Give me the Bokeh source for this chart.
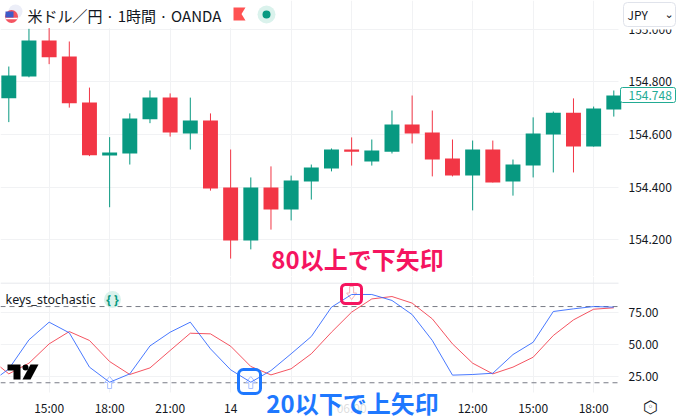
from bokeh.plotting import figure
from bokeh.layouts import column
from bokeh.models import (ColumnDataSource, FixedTicker, BoxAnnotation, Label, NumeralTickFormatter)
from bokeh.embed import file_html
from bokeh.resources import INLINE

opens  = [154.738,154.820,154.957,154.896,154.721,154.520,154.528,154.658,154.740,154.604,154.653,
          154.399,154.198,154.399,154.315,154.422,154.471,154.543,154.498,154.535,154.638,154.608,
          154.509,154.444,154.543,154.422,154.482,154.600,154.683,154.554,154.695]
highs  = [154.858,155.001,155.004,154.953,154.778,154.590,154.680,154.767,154.756,154.740,154.680,
          154.543,154.437,154.479,154.444,154.486,154.547,154.589,154.581,154.691,154.748,154.691,
          154.581,154.577,154.577,154.505,154.665,154.687,154.737,154.706,154.767]
lows   = [154.647,154.817,154.867,154.702,154.518,154.324,154.486,154.643,154.592,154.543,154.387,
          154.129,154.164,154.239,154.274,154.353,154.460,154.482,154.482,154.528,154.566,154.441,
          154.441,154.312,154.418,154.368,154.437,154.456,154.456,154.554,154.668]
closes = [154.824,154.957,154.893,154.719,154.521,154.532,154.661,154.740,154.608,154.653,154.395,
          154.198,154.399,154.315,154.425,154.475,154.543,154.535,154.539,154.638,154.604,154.505,
          154.444,154.543,154.418,154.486,154.604,154.683,154.554,154.699,154.748]
k_line = [19.1,30.9,53.8,67.7,59.3,32.3,20.4,27.0,49.0,59.8,67.7,46.7,30.2,20.4,29.6,42.8,56.4,
          79.5,89.5,89.5,84.8,73.7,53.3,26.0,26.5,27.5,42.2,51.9,76.1,78.2,80.0,79.5]
d_line = [40.0,27.0,35.4,50.6,60.3,53.3,36.7,26.5,31.7,45.4,59.0,58.5,48.8,32.8,26.2,31.0,42.8,
          59.8,75.6,86.0,87.9,82.7,70.3,50.6,35.4,27.0,32.3,40.1,57.2,69.5,77.9,79.0]
line_index = list(range(-1, 31))
time_ticks = [2,5,8,11,14,17,20,23,26,29]
time_labels = ["15:00","18:00","21:00","14","","06:00","","12:00","15:00","18:00"]
price_ticks = [154.2,154.4,154.6,154.8,155.0]
osc_ticks = [25,50,75]
up_signals = [5,12]
down_signals = [17]
last_price = "154.748"

GREEN="#089981"; RED="#F23645"; BLUE="#2962FF"; GRID="#F1F2F4"; TXT="#131722"; FONT="Noto Sans CJK JP"; BOLD="Noto Sans CJK SC"

def rx(px): return (px-8.3)/20.167
def ry(py): return 154.8-(py-81.3)/263.5
def oy(py): return 75-(py-312.4)/1.27

xr=(rx(0),rx(680))
top = figure(width=680,height=276,x_range=xr,y_range=(ry(276),ry(0)),toolbar_location=None,
             output_backend="svg",y_axis_location="right",x_axis_location=None,
             min_border_left=0,min_border_top=0,min_border_bottom=0,min_border_right=0)
bot = figure(width=680,height=144,x_range=xr,y_range=(oy(420),oy(276)),toolbar_location=None,
             output_backend="svg",y_axis_location="right",
             min_border_left=0,min_border_top=0,min_border_bottom=0,min_border_right=0)
for p,t in ((top,price_ticks),(bot,osc_ticks)):
    p.outline_line_color=None
    ax=p.yaxis[0]
    ax.fixed_location=rx(618)
    ax.ticker=FixedTicker(ticks=t); ax.axis_line_color=None
    ax.major_tick_line_color=None; ax.minor_tick_line_color=None
    ax.major_tick_out=0; ax.major_label_standoff=10
    ax.major_label_text_font=FONT; ax.major_label_text_font_size="12px"; ax.major_label_text_color=TXT
    p.ygrid.ticker=FixedTicker(ticks=t); p.ygrid.grid_line_color=GRID
    p.xgrid.ticker=FixedTicker(ticks=time_ticks); p.xgrid.grid_line_color=GRID
top.yaxis[0].formatter=NumeralTickFormatter(format="0.000")
bot.yaxis[0].formatter=NumeralTickFormatter(format="0.00")
ax=bot.xaxis[0]
ax.fixed_location=oy(392)
ax.ticker=FixedTicker(ticks=time_ticks)
ax.major_label_overrides=dict(zip(time_ticks,time_labels))
ax.axis_line_color=None; ax.major_tick_line_color=None; ax.minor_tick_line_color=None
ax.major_tick_out=0; ax.major_label_standoff=6
ax.major_label_text_font=FONT; ax.major_label_text_font_size="12px"; ax.major_label_text_color=TXT

def mask(p,**kw):
    p.add_layout(BoxAnnotation(fill_color="white",fill_alpha=1,line_color=None,level="underlay",**kw))
# grid stops at the price scale, at the time scale and under the title
mask(top,left=rx(618),right=rx(680),top=ry(0),bottom=ry(276))
mask(bot,left=rx(618),right=rx(680),top=oy(276),bottom=oy(420))
mask(bot,left=rx(0),right=rx(680),top=oy(392),bottom=oy(420))
mask(top,left=rx(0),right=rx(250),top=ry(0),bottom=ry(27.8))

idx=list(range(len(opens)))
cols=[GREEN if c>=o else RED for o,c in zip(opens,closes)]
src=ColumnDataSource(dict(x=idx,o=opens,h=highs,l=lows,c=closes,col=cols))
top.segment("x","h","x","l",source=src,color="col",line_width=1)
top.vbar("x",0.74,"o","c",source=src,fill_color="col",line_color=None)

# header decorations
top.scatter([rx(15)],[ry(11)],size=14,fill_color="#ECEEF8",line_color=None)
top.scatter([rx(11)],[ry(16)],size=13,fill_color=RED,fill_alpha=.85,line_color=None)
top.rect([rx(11)],[ry(18)],width=12/20.167,height=1.5/263.5,fill_color="white",line_color=None)
top.rect([rx(9)],[ry(14)],width=8/20.167,height=6/263.5,fill_color="#3C5AC8",line_color=None)
top.patch([rx(a) for a in (233,245,241,245,233)],[ry(b) for b in (7,7,13.5,20,20)],fill_color="#FF5252",line_color=None)
top.scatter([rx(266)],[ry(14)],size=18,fill_color="#DAF2EC",line_color=None)
top.scatter([rx(266)],[ry(14)],size=8,fill_color=GREEN,line_color=None)
top.add_layout(Label(x=rx(27),y=ry(15),text="米ドル／円 · 1時間 · OANDA",text_font=FONT,text_font_size="15px",text_color=TXT,text_baseline="middle"))

# price scale extras
top.add_layout(BoxAnnotation(left=rx(619),right=rx(680),top=ry(0),bottom=ry(29),fill_color="white",fill_alpha=1,line_color=None))
top.add_layout(BoxAnnotation(left=rx(623),right=rx(675),top=ry(2),bottom=ry(26),fill_color="white",fill_alpha=1,line_color="#E0E3EB",line_alpha=1,line_width=1,border_radius=4))
top.add_layout(Label(x=rx(627),y=ry(14),text="JPY",text_font=FONT,text_font_size="12px",text_color=TXT,text_baseline="middle"))
top.add_layout(Label(x=rx(664),y=ry(14),text="⌄",text_font="DejaVu Sans",text_font_size="11px",text_color=TXT,text_baseline="middle"))
top.add_layout(BoxAnnotation(left=rx(620),right=rx(675),top=ry(87),bottom=ry(102),fill_color="white",fill_alpha=1,line_color="#22AB94",line_alpha=1,line_width=1,border_radius=2))
top.add_layout(Label(x=rx(628),y=ry(95),text=last_price,text_font=FONT,text_font_size="12px",text_color="#22AB94",text_baseline="middle"))

top.add_layout(Label(x=rx(357),y=ry(258),text="80以上で下矢印",text_font=BOLD,text_font_size="24px",text_font_style="bold",
                     text_color="#F5145F",text_align="center",text_baseline="middle"))

# oscillator
left_right=[rx(0),rx(618)]
bot.line(left_right,[oy(282.7)]*2,line_color="#E6E8EC",line_width=1)
for lv in (80,20):
    bot.line(left_right,[lv,lv],line_color="#787B86",line_width=1,line_dash="5 4")
def arrow(i,base,tip):
    h=(tip-base)
    return ([i-2/20.167,i-2/20.167,i-5/20.167,i,i+5/20.167,i+2/20.167,i+2/20.167],
            [base,base+h*.5,base+h*.5,tip,base+h*.5,base+h*.5,base])
xs,ys=zip(*[arrow(i,oy(388),oy(376)) for i in up_signals])
bot.patches(list(xs),list(ys),fill_color="white",line_color="#A9BFFF",line_width=1)
xs,ys=zip(*[arrow(i,oy(286),oy(299)) for i in down_signals])
bot.patches(list(xs),list(ys),fill_color="white",line_color="#F9B0B6",line_width=1)
bot.line(line_index,d_line,line_color=RED,line_width=1,line_alpha=.85)
bot.line(line_index,k_line,line_color=BLUE,line_width=1,line_alpha=.85)
bot.add_layout(Label(x=rx(5),y=oy(299),text="keys_stochastic",text_font="Noto Sans",text_font_size="12.5px",text_color=TXT,text_baseline="middle"))
bot.scatter([rx(112)],[oy(299)],size=17,fill_color="#DAF2EC",line_color=None)
bot.add_layout(Label(x=rx(112),y=oy(299),text="{ }",text_font="Noto Sans",text_font_size="12px",text_font_style="bold",text_color=GREEN,text_align="center",text_baseline="middle"))
# TV logo
bot.patch([rx(a) for a in (7,20,20,13,13,7)],[oy(b) for b in (364,364,379,379,370,370)],fill_color="black",line_color=None)
bot.scatter([rx(25)],[oy(367)],size=6,fill_color="black",line_color=None)
bot.patch([rx(a) for a in (30,38,30,22)],[oy(b) for b in (364,364,379,379)],fill_color="black",line_color=None)
# highlight boxes
bot.add_layout(BoxAnnotation(left=rx(341),right=rx(361),top=oy(284),bottom=oy(303),fill_color=None,line_color="#F5145F",line_alpha=1,line_width=3,border_radius=4))
bot.add_layout(BoxAnnotation(left=rx(238),right=rx(260),top=oy(369),bottom=oy(393),fill_color=None,line_color="#1E78FF",line_alpha=1,line_width=3,border_radius=5))
bot.add_layout(Label(x=rx(352),y=oy(402),text="20以下で上矢印",text_font=BOLD,text_font_size="24px",text_font_style="bold",
                     text_color="#1E78FF",text_align="center",text_baseline="middle",
                     background_fill_color="white",background_fill_alpha=.85))
bot.add_layout(Label(x=rx(650),y=oy(406),text="⬡",text_font="DejaVu Sans",text_font_size="17px",text_color=TXT,text_align="center",text_baseline="middle"))
bot.add_layout(Label(x=rx(650),y=oy(406),text="◦",text_font="DejaVu Sans",text_font_size="10px",text_color=TXT,text_align="center",text_baseline="middle"))

page=column(top,bot,spacing=0)
open("out.html","w").write(file_html(page,INLINE))
